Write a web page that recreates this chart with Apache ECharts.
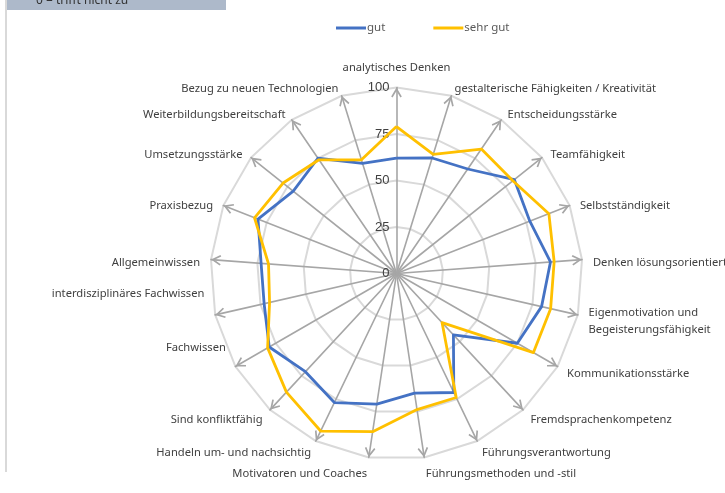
<!DOCTYPE html>
<html>
<head>
<meta charset="utf-8">
<script src="https://cdn.jsdelivr.net/npm/echarts@6/dist/echarts.min.js"></script>
<style>
html,body{margin:0;padding:0;background:#fff;}
#chart{width:725px;height:493px;}
</style>
</head>
<body>
<div id="chart"></div>
<script>
// categories in clockwise order, starting at the top
const categories = [
  'analytisches Denken',
  'gestalterische Fähigkeiten / Kreativität',
  'Entscheidungsstärke',
  'Teamfähigkeit',
  'Selbstständigkeit',
  'Denken lösungsorientiert',
  'Eigenmotivation und\nBegeisterungsfähigkeit',
  'Kommunikationsstärke',
  'Fremdsprachenkompetenz',
  'Führungsverantwortung',
  'Führungsmethoden und -stil',
  'Motivatoren und Coaches',
  'Handeln um- und nachsichtig',
  'Sind konfliktfähig',
  'Fachwissen',
  'interdisziplinäres Fachwissen',
  'Allgemeinwissen',
  'Praxisbezug',
  'Umsetzungsstärke',
  'Weiterbildungsbereitschaft',
  'Bezug zu neuen Technologien'
];
const gut     = [62, 65, 68, 81, 77, 83, 80, 75, 45, 71, 65, 71, 77, 72, 79, 73, 73, 80, 71, 75, 62];
const sehrGut = [79, 67, 81, 80, 88, 85, 85, 85, 36, 74, 74, 86, 94, 87, 80, 70, 69, 82, 78, 74, 64];
const tickLabels = [0, 25, 50, 75, 100];
const seriesNames = ['gut', 'sehr gut'];
const noteText = '0 = trifft nicht zu';

// label style tweaks (style only), by category index -> rich style key
const nameStyleKey = { 0: 'top', 7: 'lo', 8: 'lo', 9: 'lo', 10: 'dn', 11: 'dn', 12: 'lo', 13: 'lo', 14: 'up', 15: 'up' };

// ECharts radar runs counter-clockwise; reorder to get clockwise layout
const order = [0];
for (let i = categories.length - 1; i >= 1; i--) order.push(i);

const tickMax = tickLabels[tickLabels.length - 1];
const indicator = order.map((i, k) => {
  const o = {
    name: categories[i], min: tickLabels[0], max: tickMax,
    styleKey: nameStyleKey[i] || 'd'
  };
  if (k === 0) {
    o.axisLabel = {
      show: true,
      color: '#404040',
      fontSize: 13,
      fontFamily: 'Liberation Sans',
      margin: 7,
      padding: [5, 0, 0, 0]
    };
  }
  return o;
});

const chart = echarts.init(document.getElementById('chart'), null, { renderer: 'canvas' });
chart.setOption({
  animation: false,
  backgroundColor: '#ffffff',
  legend: {
    data: seriesNames,
    left: 331,
    top: 17,
    icon: 'rect',
    itemWidth: 30,
    itemHeight: 3,
    itemGap: 48,
    textStyle: { color: '#595959', fontSize: 11.5, fontFamily: 'Noto Sans', padding: [0, 0, 0, -4] }
  },
  radar: {
    center: [396.5, 273.5],
    radius: 186,
    startAngle: 90,
    splitNumber: tickLabels.length - 1,
    shape: 'polygon',
    indicator: indicator,
    axisName: {
      color: '#404040',
      fontSize: 11.2,
      fontFamily: 'Noto Sans',
      lineHeight: 17,
      formatter: function (name, ind) {
        const key = (ind && ind.styleKey) || 'd';
        return name.split('\n').map(s => '{' + key + '|' + s + '}').join('\n');
      },
      rich: {
        top: { padding: [0, 0, 0, 0] },
        d: { padding: [8, 0, 0, 0] },
        lo: { padding: [3, 0, 0, 0] },
        dn: { padding: [12, 0, 0, 0] },
        up: { padding: [0, 0, 48, 0] }
      }
    },
    nameGap: 11,
    axisLine: {
      show: true,
      symbol: ['none', 'path://M5,0 L10,8.5 L8.7,9.4 L5,3.2 L1.3,9.4 L0,8.5 Z'],
      symbolSize: [11, 10],
      symbolOffset: [0, -5],
      lineStyle: { color: '#a6a6a6', width: 1.6 }
    },
    axisTick: { show: false },
    axisLabel: { show: false },
    splitLine: { lineStyle: { color: '#d9d9d9', width: 2 } },
    splitArea: { show: false }
  },
  series: [{
    type: 'radar',
    symbol: 'none',
    data: [
      { name: seriesNames[0], value: order.map(i => gut[i]),
        lineStyle: { color: '#4472c4', width: 2.8 }, itemStyle: { color: '#4472c4' } },
      { name: seriesNames[1], value: order.map(i => sehrGut[i]),
        lineStyle: { color: '#ffc000', width: 2.8 }, itemStyle: { color: '#ffc000' } }
    ]
  }],
  graphic: [
    { type: 'rect', shape: { x: 7, y: 0, width: 219, height: 10 }, style: { fill: '#adb9ca' }, silent: true },
    { type: 'rect', shape: { x: 5, y: 0, width: 2, height: 472 }, style: { fill: '#d9d9d9' }, silent: true },
    { type: 'text', x: 36, y: 7, style: { text: noteText, fill: '#333333', fontSize: 12, fontFamily: 'Noto Sans', textVerticalAlign: 'bottom' }, silent: true }
  ]
});
</script>
</body>
</html>
